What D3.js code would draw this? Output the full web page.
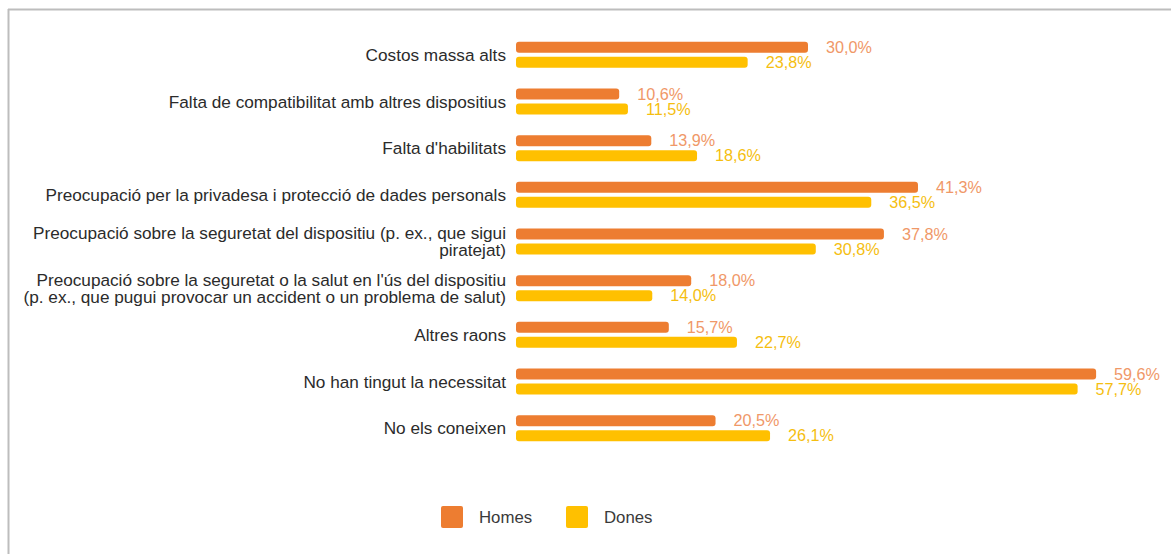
<!DOCTYPE html>
<html><head><meta charset="utf-8">
<script src="https://cdn.jsdelivr.net/npm/d3@7"></script>
<style>body{margin:0;background:#fff}svg{display:block;font-family:"Liberation Sans",Arial,sans-serif}</style>
</head><body><svg id="c" width="1171" height="554"></svg>
<script>
const categories = [
  ["Costos massa alts"],
  ["Falta de compatibilitat amb altres dispositius"],
  ["Falta d'habilitats"],
  ["Preocupació per la privadesa i protecció de dades personals"],
  ["Preocupació sobre la seguretat del dispositiu (p. ex., que sigui", "piratejat)"],
  ["Preocupació sobre la seguretat o la salut en l'ús del dispositiu", "(p. ex., que pugui provocar un accident o un problema de salut)"],
  ["Altres raons"],
  ["No han tingut la necessitat"],
  ["No els coneixen"]
];
const homes = [30.0, 10.6, 13.9, 41.3, 37.8, 18.0, 15.7, 59.6, 20.5];
const dones = [23.8, 11.5, 18.6, 36.5, 30.8, 14.0, 22.7, 57.7, 26.1];
const seriesNames = ["Homes", "Dones"];
const colors = ["#ED7D31", "#FFC000"];
const labelColors = ["#F09868", "#F5BE10"];

const svg = d3.select("#c");
// frame
svg.append("line").attr("x1",8).attr("x2",1171).attr("y1",9.5).attr("y2",9.5).attr("stroke","#bdbdbd").attr("stroke-width",2);
svg.append("line").attr("x1",8.5).attr("x2",8.5).attr("y1",9).attr("y2",554).attr("stroke","#bdbdbd").attr("stroke-width",2);

const x = d3.scaleLinear().domain([0, 60]).range([516, 1100]);
const y = d3.scaleBand().domain(d3.range(categories.length)).range([31.5, 451.5]);
const barH = 11, gap = 4;

const g = svg.append("g");
categories.forEach((lines, i) => {
  const cy = y(i) + y.bandwidth()/2;
  const t = g.append("text").attr("x", 506).attr("text-anchor","end").attr("font-size",17.2).attr("fill","#2b2b2b");
  const lh = 17;
  lines.forEach((ln, k) => {
    t.append("tspan").attr("x",506).attr("y", cy + 6 + (k - (lines.length-1)/2)*lh).text(ln);
  });
  [homes[i], dones[i]].forEach((v, s) => {
    const by = s === 0 ? cy - gap/2 - barH : cy + gap/2;
    g.append("rect").attr("x", x(0)).attr("y", by).attr("width", x(v)-x(0)).attr("height", barH)
      .attr("rx", 3).attr("fill", colors[s]);
    g.append("text").attr("x", x(v) + 18).attr("y", by + barH/2 + 5.5).attr("font-size",16.2)
      .attr("fill", labelColors[s]).text(v.toFixed(1).replace(".", ",") + "%");
  });
});

// legend
const legX = [441, 566];
seriesNames.forEach((n, s) => {
  svg.append("rect").attr("x", legX[s]).attr("y", 506).attr("width", 22).attr("height", 22).attr("rx", 2).attr("fill", colors[s]);
  svg.append("text").attr("x", legX[s] + 38).attr("y", 523).attr("font-size", 16.8).attr("fill", "#3a3a3a").text(n);
});
</script></body></html>
